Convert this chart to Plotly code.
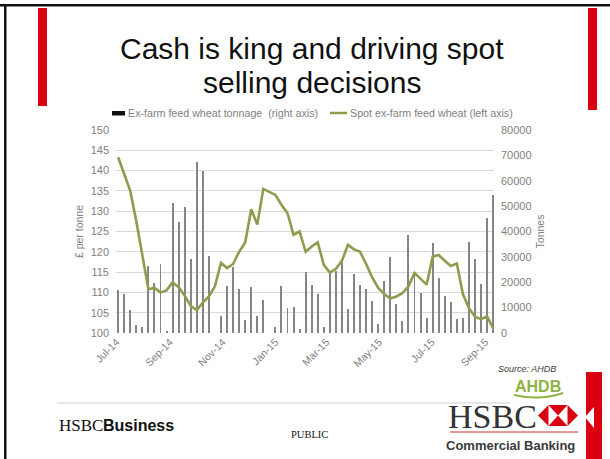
import pandas as pd
import plotly.graph_objects as go

# ---------------- data ----------------
week_dates = pd.date_range("2014-07-03", periods=63, freq="7D")
tonnage = [16800, 15300, 8900, 3200, 2500, 26400, 19900, 27000, 500, 51400,
           43700, 49800, 29100, 67200, 64000, 30200, 0, 6600, 18600, 26200,
           17300, 5300, 18000, 6700, 13100, 0, 2500, 18700, 9800, 10300,
           1500, 23900, 19000, 15500, 2500, 24000, 24300, 27800, 9400, 23300,
           19000, 17500, 12700, 3700, 20300, 30000, 11500, 4600, 38700, 23100,
           15700, 6100, 35500, 21600, 14400, 12300, 5400, 6000, 35700, 29300,
           19200, 45200, 54400]
spot_price = [143.3, 139.2, 135.0, 127.5, 119.5, 110.8, 111.1, 110.0, 110.5, 112.5,
              111.3, 109.2, 106.7, 105.6, 107.5, 109.0, 111.5, 117.3, 116.0, 117.0,
              120.0, 122.3, 130.5, 126.7, 135.5, 134.8, 134.0, 131.6, 129.5, 124.2,
              125.0, 120.0, 121.3, 122.3, 116.8, 114.9, 115.8, 117.8, 121.7, 120.6,
              120.0, 117.0, 113.7, 111.1, 109.6, 108.5, 109.0, 109.8, 111.5, 114.8,
              113.3, 111.9, 118.8, 119.2, 117.8, 116.5, 117.1, 109.6, 106.1, 104.0,
              103.4, 104.1, 101.2]
bar_name = "Ex-farm feed wheat tonnage  (right axis)"
line_name = "Spot ex-farm feed wheat (left axis)"
title_lines = ["Cash is king and driving spot", "selling decisions"]

# ---------------- geometry ----------------
W, H = 610, 459
PL, PR, PT, PB = 116, 494, 130, 333


def px(x):
    return (x - PL) / (PR - PL)


def py(y):
    return (PB - y) / (PB - PT)


GRAY = "#7f7f7f"
RED = "#db0011"
LINE_COLOR = "#8e9c4e"
BAR_COLOR = "#858585"
SANS = "Liberation Sans, Arial, sans-serif"
SERIF = "Liberation Serif, Times New Roman, serif"

fig = go.Figure()
fig.add_trace(go.Bar(
    x=week_dates, y=tonnage, name=bar_name, yaxis="y",
    marker=dict(color=BAR_COLOR, line=dict(width=0)),
    width=1.1 * 86400000,
))
fig.add_trace(go.Scatter(
    x=week_dates, y=spot_price, name=line_name, yaxis="y2",
    mode="lines", line=dict(color=LINE_COLOR, width=2.6),
))

fig.update_layout(
    width=W, height=H,
    margin=dict(l=PL, r=W - PR, t=PT, b=H - PB, autoexpand=False),
    paper_bgcolor="white", plot_bgcolor="white",
    font=dict(family=SANS, color=GRAY, size=11),
    bargap=0,
    showlegend=False,
    xaxis=dict(
        type="date", automargin=False,
        range=["2014-06-30 12:00", "2015-09-11"],
        tick0="2014-07-01", dtick="M2", tickformat="%b-%y",
        tickangle=-45, showgrid=False, zeroline=False, showline=False,
        ticks="", tickfont=dict(size=10.5, color=GRAY),
    ),
    yaxis=dict(
        side="right", range=[0, 80000], dtick=10000, tickformat="d",
        showgrid=False, automargin=False,
        zeroline=False, showline=False, ticks="", ticklabelstandoff=6,
        tickfont=dict(size=11, color=GRAY),
        title=dict(text="Tonnes", font=dict(size=10.5, color=GRAY), standoff=6),
    ),
    yaxis2=dict(
        side="left", overlaying="y", range=[100, 150], dtick=5,
        showgrid=True, gridcolor="#d9d9d9", gridwidth=0.8, automargin=False,
        zeroline=False, showline=False, ticks="", ticklabelstandoff=6,
        tickfont=dict(size=11, color=GRAY),
        title=dict(text="£ per tonne", font=dict(size=10.5, color=GRAY), standoff=4),
    ),
)


def text(t, x, y, size, color, family=SANS, anchor="center"):
    return dict(text=t, x=px(x), y=py(y), xref="paper", yref="paper",
                xanchor=anchor, yanchor="middle", showarrow=False,
                font=dict(family=family, size=size, color=color))


ann = [
    text(title_lines[0], 312, 48, 30, "#111111"),
    text(title_lines[1], 312, 82, 30, "#111111"),
    # legend texts
    text(bar_name, 126, 113, 10.7, GRAY, anchor="left"),
    text(line_name, 348, 113, 10.7, GRAY, anchor="left"),
    text("<i>Source: AHDB</i>", 527, 369, 9, "#404040"),
    text("<b>AHDB</b>", 538, 386, 16, "#8db443"),
    text("HSBC", 57, 425, 17, "#111111", family=SERIF, anchor="left"),
    text("<b>Business</b>", 101, 425, 16, "#111111", anchor="left"),
    text("PUBLIC", 309, 434, 10.5, "#111111", family=SERIF),
    text("HSBC", 492, 416, 34, "#333333", family=SERIF),
    text("<b>Commercial Banking</b>", 511, 445, 13, "#3a3a3a"),
]
fig.update_layout(annotations=ann)


def rect(x0, y0, x1, y1, color):
    return dict(type="rect", xref="paper", yref="paper",
                x0=px(x0), x1=px(x1), y0=py(y0), y1=py(y1),
                fillcolor=color, line=dict(width=0), layer="above")


def poly(points, color):
    d = "M " + " L ".join(f"{px(a):.5f},{py(b):.5f}" for a, b in points) + " Z"
    return dict(type="path", xref="paper", yref="paper", path=d,
                fillcolor=color, line=dict(width=0), layer="above")


def hline(x0, x1, y, color, w):
    return dict(type="line", xref="paper", yref="paper",
                x0=px(x0), x1=px(x1), y0=py(y), y1=py(y),
                line=dict(color=color, width=w), layer="above")


shapes = [
    # slide border
    rect(0, 4, W, 6.5, "#111111"),
    rect(4, 4, 6.5, H, "#111111"),
    # red accent bars
    rect(38, 8, 47, 106, RED),
    rect(588, 8, 597, 110, RED),
    rect(586, 372, 602, H, RED),
    poly([(585, 417), (594, 407), (594, 428)], "white"),
    # legend symbols
    rect(112, 111, 125, 115.5, "#111111"),
    hline(330, 347, 113, LINE_COLOR, 2.5),
    # footer separator
    hline(57, 510, 403, "#d0d0d0", 1.2),
    # HSBC hexagon
    poly([(538, 415.5), (548.5, 405), (548.5, 426)], RED),
    poly([(578, 415.5), (567.5, 405), (567.5, 426)], RED),
    poly([(548.5, 405), (567.5, 405), (558, 415.5)], RED),
    poly([(548.5, 426), (567.5, 426), (558, 415.5)], RED),
    hline(450, 578, 432, "#c0392b", 1),
    # AHDB swoosh
    dict(type="path", xref="paper", yref="paper",
         path=f"M {px(514):.5f},{py(395):.5f} Q {px(540):.5f},{py(401):.5f} {px(563):.5f},{py(393):.5f}",
         line=dict(color="#8db443", width=2), layer="above"),
]
fig.update_layout(shapes=shapes)

fig.write_html("out.html", config={"displayModeBar": False},
               post_script="document.body.style.margin='0px';")
